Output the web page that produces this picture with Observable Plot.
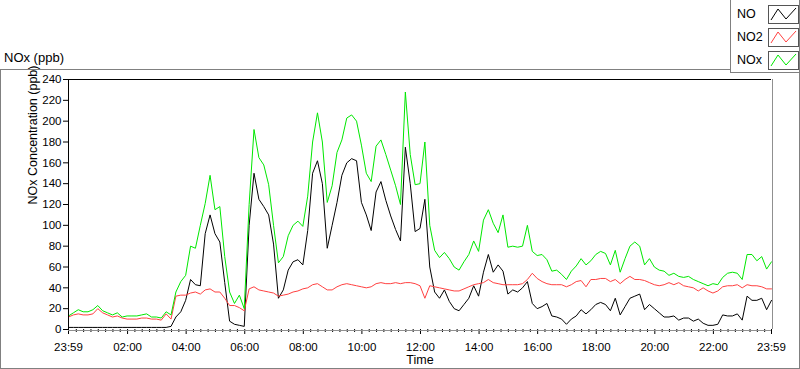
<!DOCTYPE html>
<html><head><meta charset="utf-8">
<script src="https://cdn.jsdelivr.net/npm/d3@7"></script>
<script src="https://cdn.jsdelivr.net/npm/@observablehq/plot@0.6"></script>
<style>
html,body{margin:0;padding:0;background:#fff;}
#wrap{position:relative;width:800px;height:369px;overflow:hidden;font-family:"Liberation Sans",Arial,sans-serif;color:#000;}
#chart{position:absolute;left:0;top:0;}
#frame{position:absolute;left:0;top:69px;width:800px;height:300px;box-sizing:border-box;border:1px solid #808080;pointer-events:none;}
#title{position:absolute;left:4px;top:50px;font-size:13px;line-height:15px;}
#legend{position:absolute;left:730px;top:-1px;width:70px;height:74px;box-sizing:border-box;border:1px solid #808080;background:#fff;}
.row{position:absolute;left:0;width:68px;height:20px;}
.row .lab{position:absolute;left:6px;top:2px;font-size:12.5px;line-height:15px;}
.row svg{position:absolute;left:37px;top:0;}
</style></head>
<body><div id="wrap"><div id="chart"></div><div id="frame"></div><div id="title"></div><div id="legend"></div></div>
<script>
// ---- data (one sample every 10 minutes from 23:59) ----
const seriesNames = ["NO", "NO2", "NOx"];
const seriesColors = ["#000000", "#ff4040", "#00e800"];
const STEP_MIN = 10;
const NO = [2,2,2,2,2,2,2,2,2,2, 2,2,2,2,2,2,2,2,2,2,
  2,3,12,17,28,48,43,42,92,110, 92,84,45,8,5,4,3,100,150,125,
  118,110,82,30,38,57,65,67,62,95, 150,162,140,78,100,122,148,160,164,162,
  122,110,95,132,142,124,109,96,85,175, 140,94,97,125,60,36,30,38,27,20,
  18,24,30,42,32,55,72,55,62,56, 34,38,36,40,46,25,20,22,25,13,
  12,10,5,10,13,19,15,19,24,26, 24,18,30,14,22,30,32,34,19,24,
  20,16,12,12,13,9,11,11,8,10, 6,4,4,5,14,13,13,15,9,32,
  28,28,30,19,28];
const NO2 = [12,14,15,14,14,15,20,16,14,12, 13,11,10,10,10,11,11,10,10,9,
  15,10,32,33,33,35,36,34,38,39, 36,36,30,23,23,21,18,39,41,38,
  37,36,35,32,33,34,36,37,39,40, 43,44,41,38,38,41,43,44,43,42,
  41,40,41,44,45,44,44,45,44,45, 45,44,42,30,42,41,40,39,38,37,
  37,39,41,43,44,45,48,45,44,43, 43,43,43,44,48,54,49,46,44,43,
  43,43,41,43,46,47,41,48,48,49, 49,46,48,44,48,51,48,48,47,45,
  43,42,43,45,43,45,42,41,40,37, 40,37,35,37,41,42,42,43,40,43,
  42,42,41,39,39];
const NOx = [13,16,19,17,17,19,23,18,16,14, 16,12,13,13,13,14,15,12,12,11,
  17,14,36,46,52,80,78,100,121,148, 115,118,70,36,25,33,20,120,192,165,
  158,139,100,64,70,90,100,104,99,128, 180,208,180,122,138,170,182,203,206,200,
  177,150,142,176,182,168,153,138,120,228, 168,139,140,180,100,76,69,74,68,60,
  57,65,72,85,75,105,115,102,93,110, 79,80,79,80,100,75,71,72,67,56,
  57,53,48,56,61,68,62,66,72,75, 73,62,76,55,68,80,84,80,62,68,
  60,57,56,52,54,51,50,51,48,46, 44,42,44,43,50,54,55,54,48,72,
  72,66,70,58,65];
const xTickLabels = ["23:59","02:00","04:00","06:00","08:00","10:00","12:00","14:00","16:00","18:00","20:00","22:00","23:59"];
const yTicks = [0,20,40,60,80,100,120,140,160,180,200,220,240];
const titleText = "NOx (ppb)";
const yLabel = "NOx Concentration (ppb)";
const xLabel = "Time";

// ---- build ----
const START = 23*60+59;
const toMin = (s, last) => { const [h,m] = s.split(":").map(Number); let v = (h*60+m - START + 1440) % 1440; if (last && v === 0) v = 1440; return v; };
const majorTicks = xTickLabels.map((s,i) => toMin(s, i === xTickLabels.length-1));
const labelMap = new Map(majorTicks.map((t,i) => [t, xTickLabels[i]]));
const minorTicks = d3.range(15, 1440, 15).filter(m => m % 120 !== 0).map(m => m + 1);
const rows = NO.map((v,i) => ({t: i*STEP_MIN, NO: v, NO2: NO2[i], NOx: NOx[i]}));

const chart = Plot.plot({
  width: 800, height: 369,
  marginLeft: 68, marginRight: 29, marginTop: 79, marginBottom: 40,
  x: {domain: [0, 1440]},
  y: {domain: [0, 240]},
  style: {fontFamily: "'Liberation Sans', Arial, sans-serif", fontSize: "12px", color: "#000", background: "transparent"},
  marks: [
    Plot.axisY({ticks: yTicks, tickSize: 5, tickPadding: 2, label: null, fontSize: 11.5}),
    Plot.axisX({ticks: minorTicks, tickSize: 3, tickFormat: () => "", label: null}),
    Plot.axisX({ticks: majorTicks, tickSize: 5, tickPadding: 8, tickFormat: d => labelMap.get(d), label: null, fontSize: 11.5}),
    Plot.line(rows, {x: "t", y: "NO", stroke: seriesColors[0], strokeWidth: 1}),
    Plot.line(rows, {x: "t", y: "NO2", stroke: seriesColors[1], strokeWidth: 1}),
    Plot.line(rows, {x: "t", y: "NOx", stroke: seriesColors[2], strokeWidth: 1}),
    Plot.ruleY([0], {stroke: "#909090", dy: 1}),
    Plot.ruleX([1440], {stroke: "#909090", dx: 1}),
    Plot.ruleY([240], {stroke: "#000"}),
    Plot.ruleX([0], {stroke: "#000"}),
    Plot.text([yLabel], {frameAnchor: "left", dx: -36, rotate: -90, fontSize: 12.5}),
    Plot.text([xLabel], {frameAnchor: "bottom", dy: 34, fontSize: 12.5})
  ]
});
document.getElementById("chart").appendChild(chart);
document.getElementById("title").textContent = titleText;

const legend = document.getElementById("legend");
seriesNames.forEach((name, i) => {
  const row = document.createElement("div");
  row.className = "row";
  row.style.top = (5 + i*23) + "px";
  row.innerHTML = `<span class="lab">${name}</span><svg width="31" height="19"><rect x="0.5" y="0.5" width="30" height="18" fill="#fff" stroke="#555"/><polyline points="3,15 10,4 18,14 28,3" fill="none" stroke="${seriesColors[i]}" stroke-width="1"/></svg>`;
  legend.appendChild(row);
});
</script></body></html>
